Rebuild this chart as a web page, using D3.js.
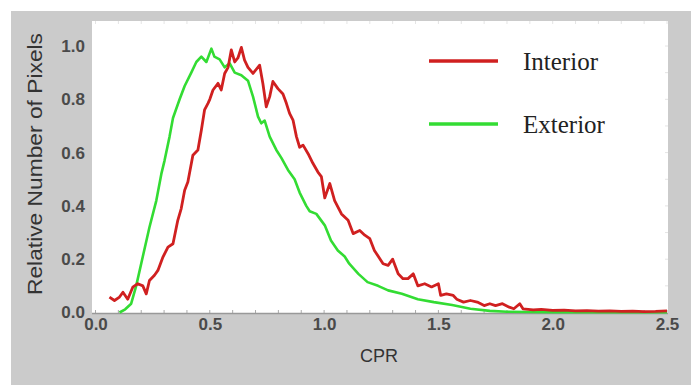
<!DOCTYPE html>
<html>
<head>
<meta charset="utf-8">
<script src="https://cdn.jsdelivr.net/npm/d3@7"></script>
<style>
  body { margin: 0; background: #fff; }
  .tick text { font-family: "Liberation Sans", Arial, sans-serif; font-size: 17px; font-weight: bold; fill: #4a4a4a; }
</style>
</head>
<body>
<div id="chart"></div>
<script>
var svgWidth = 691;
var svgHeight = 385;

// Data
var interiorCPR = [0.061, 0.083, 0.105, 0.12, 0.141, 0.163, 0.185, 0.207, 0.222, 0.236, 0.258, 0.273, 0.295, 0.317, 0.339,
    0.36, 0.375, 0.39, 0.404, 0.426, 0.448, 0.463, 0.477, 0.492, 0.5, 0.514, 0.536, 0.55, 0.565, 0.58, 0.594, 0.609,
    0.623, 0.638, 0.652, 0.667, 0.689, 0.718, 0.732, 0.747, 0.762, 0.776, 0.798, 0.82, 0.835, 0.849, 0.864, 0.879,
    0.893, 0.908, 0.93, 0.951, 0.973, 0.988, 1.003, 1.025, 1.046, 1.076, 1.105, 1.127, 1.156, 1.178, 1.2, 1.22,
    1.258, 1.28, 1.3, 1.324, 1.345, 1.367, 1.39, 1.41, 1.44, 1.47, 1.5, 1.51, 1.535, 1.565, 1.58, 1.61, 1.64, 1.67,
    1.7, 1.725, 1.75, 1.78, 1.81, 1.83, 1.856, 1.87, 1.915, 1.95, 2.0, 2.05, 2.1, 2.15, 2.2, 2.25, 2.3, 2.35, 2.4,
    2.45, 2.5];
var interiorValues = [0.058, 0.045, 0.058, 0.076, 0.05, 0.095, 0.108, 0.1, 0.07, 0.12, 0.14, 0.158, 0.208, 0.245, 0.258,
    0.346, 0.39, 0.459, 0.49, 0.59, 0.61, 0.684, 0.76, 0.785, 0.8, 0.835, 0.86, 0.835, 0.897, 0.92, 0.985, 0.94,
    0.955, 0.995, 0.947, 0.92, 0.897, 0.928, 0.86, 0.772, 0.81, 0.867, 0.84, 0.82, 0.785, 0.747, 0.722, 0.66,
    0.62, 0.628, 0.596, 0.56, 0.527, 0.51, 0.43, 0.484, 0.42, 0.37, 0.346, 0.296, 0.308, 0.29, 0.277, 0.233,
    0.183, 0.177, 0.2, 0.145, 0.127, 0.127, 0.145, 0.1, 0.108, 0.096, 0.108, 0.064, 0.07, 0.064, 0.05, 0.039, 0.045, 0.039,
    0.026, 0.033, 0.026, 0.033, 0.02, 0.014, 0.033, 0.014, 0.01, 0.012, 0.008, 0.009, 0.006, 0.007, 0.005, 0.006, 0.004,
    0.005, 0.003, 0.004, 0.006];

var exteriorCPR = [0.105, 0.13, 0.156, 0.178, 0.207, 0.236, 0.266, 0.288, 0.302, 0.324, 0.339, 0.368, 0.39, 0.419,
    0.441, 0.463, 0.485, 0.507, 0.52, 0.543, 0.565, 0.587, 0.609, 0.638, 0.667, 0.689, 0.711, 0.725, 0.74, 0.762,
    0.791, 0.813, 0.842, 0.871, 0.893, 0.922, 0.937, 0.966, 1.003, 1.03, 1.06, 1.09, 1.11, 1.15, 1.19, 1.236, 1.28,
    1.34, 1.41, 1.48, 1.56, 1.64, 1.725, 1.8, 1.9, 2.0, 2.2, 2.5];
var exteriorValues = [0.0, 0.012, 0.033, 0.1, 0.21, 0.32, 0.42, 0.52, 0.57, 0.66, 0.73, 0.8, 0.85, 0.9,
    0.94, 0.96, 0.94, 0.99, 0.96, 0.95, 0.92, 0.935, 0.9, 0.89, 0.87, 0.81, 0.735, 0.71, 0.72, 0.66,
    0.61, 0.58, 0.535, 0.5, 0.45, 0.4, 0.38, 0.37, 0.327, 0.27, 0.233, 0.21, 0.183, 0.145, 0.114, 0.1, 0.083,
    0.07, 0.05, 0.039, 0.028, 0.014, 0.006, 0.003, 0.002, 0.001, 0.001, 0.001];

var xTicks = [0, 0.5, 1.0, 1.5, 2.0, 2.5];
var yTicks = [0, 0.2, 0.4, 0.6, 0.8, 1.0];
var seriesNames = ["Interior", "Exterior"];
var seriesColors = ["#d02020", "#33dc33"];

var plot = { left: 92, right: 668, top: 21, bottom: 313 };

var svg = d3.select("#chart")
    .append("svg")
    .attr("width", svgWidth)
    .attr("height", svgHeight);

// gray page + white plot frame
svg.append("rect")
    .attr("x", 11).attr("y", 11)
    .attr("width", svgWidth - 11).attr("height", svgHeight - 11)
    .attr("fill", "#cbcbcb");

svg.append("rect")
    .attr("x", plot.left).attr("y", plot.top)
    .attr("width", plot.right - plot.left).attr("height", plot.bottom - plot.top)
    .attr("fill", "#ffffff");

var xScale = d3.scaleLinear().domain([0, 2.5]).range([95.5, 667]);
var yScale = d3.scaleLinear().domain([0, 1]).range([312.5, 46]);

// minor ticks (inside the frame)
var minorX = d3.range(0, 2.51, 0.1);
svg.append("g").selectAll("line")
    .data(minorX)
    .enter()
    .append("line")
    .attr("x1", d => xScale(d)).attr("x2", d => xScale(d))
    .attr("y1", plot.bottom).attr("y2", plot.bottom - 3)
    .attr("stroke", "#aaa");
svg.append("g").selectAll("line")
    .data(minorX)
    .enter()
    .append("line")
    .attr("x1", d => xScale(d)).attr("x2", d => xScale(d))
    .attr("y1", plot.top).attr("y2", plot.top + 3)
    .attr("stroke", "#e4e4e4");
svg.append("g").selectAll("line")
    .data(d3.range(0, 1.01, 0.1))
    .enter()
    .append("line")
    .attr("x1", plot.right).attr("x2", plot.right - 3)
    .attr("y1", d => yScale(d)).attr("y2", d => yScale(d))
    .attr("stroke", "#e4e4e4");

// axes
var bottomAxis = d3.axisBottom(xScale)
    .tickValues(xTicks)
    .tickFormat(d3.format(".1f"))
    .tickSize(0)
    .tickPadding(5);

var xAxisG = svg.append("g")
    .attr("transform", `translate(0, ${plot.bottom})`)
    .call(bottomAxis);
xAxisG.select(".domain")
    .attr("d", `M${plot.left},0.5H${plot.right}`)
    .attr("stroke", "#999")
    .attr("stroke-width", 1.5);

var leftAxis = d3.axisLeft(yScale)
    .tickValues(yTicks)
    .tickFormat(d3.format(".1f"))
    .tickSize(0)
    .tickPadding(7);

var yAxisG = svg.append("g")
    .attr("transform", `translate(${plot.left}, 0)`)
    .call(leftAxis);
yAxisG.select(".domain").remove();

// curves
var line = d3.line()
    .x(d => xScale(d[0]))
    .y(d => yScale(d[1]));

var exterior = d3.zip(exteriorCPR, exteriorValues);
var interior = d3.zip(interiorCPR, interiorValues);

svg.append("path")
    .datum(exterior)
    .attr("d", line)
    .attr("fill", "none")
    .attr("stroke", seriesColors[1])
    .attr("stroke-width", 2.6)
    .attr("stroke-linejoin", "round");

svg.append("path")
    .datum(interior)
    .attr("d", line)
    .attr("fill", "none")
    .attr("stroke", seriesColors[0])
    .attr("stroke-width", 2.8)
    .attr("stroke-linejoin", "round");

// legend
var legend = svg.append("g").selectAll("g")
    .data(seriesNames)
    .enter()
    .append("g")
    .attr("transform", (d, i) => `translate(0, ${61 + i * 63})`);

legend.append("line")
    .attr("x1", 429).attr("x2", 498)
    .attr("y1", 0).attr("y2", 0)
    .attr("stroke", (d, i) => seriesColors[i])
    .attr("stroke-width", 3.5);

legend.append("text")
    .attr("x", 523)
    .attr("y", 9)
    .attr("font-family", "'Liberation Serif', 'Times New Roman', serif")
    .attr("font-size", 25)
    .attr("fill", "#222")
    .text(d => d);

// axis labels
svg.append("text")
    .attr("transform", "rotate(-90)")
    .attr("x", -164)
    .attr("y", 42)
    .attr("text-anchor", "middle")
    .attr("font-family", "'Liberation Sans', Arial, sans-serif")
    .attr("font-size", 21)
    .attr("fill", "#333")
    .attr("textLength", 262)
    .attr("lengthAdjust", "spacingAndGlyphs")
    .text("Relative Number of Pixels");

svg.append("text")
    .attr("x", 379)
    .attr("y", 362)
    .attr("text-anchor", "middle")
    .attr("font-family", "'Liberation Sans', Arial, sans-serif")
    .attr("font-size", 18)
    .attr("fill", "#333")
    .text("CPR");
</script>
</body>
</html>
